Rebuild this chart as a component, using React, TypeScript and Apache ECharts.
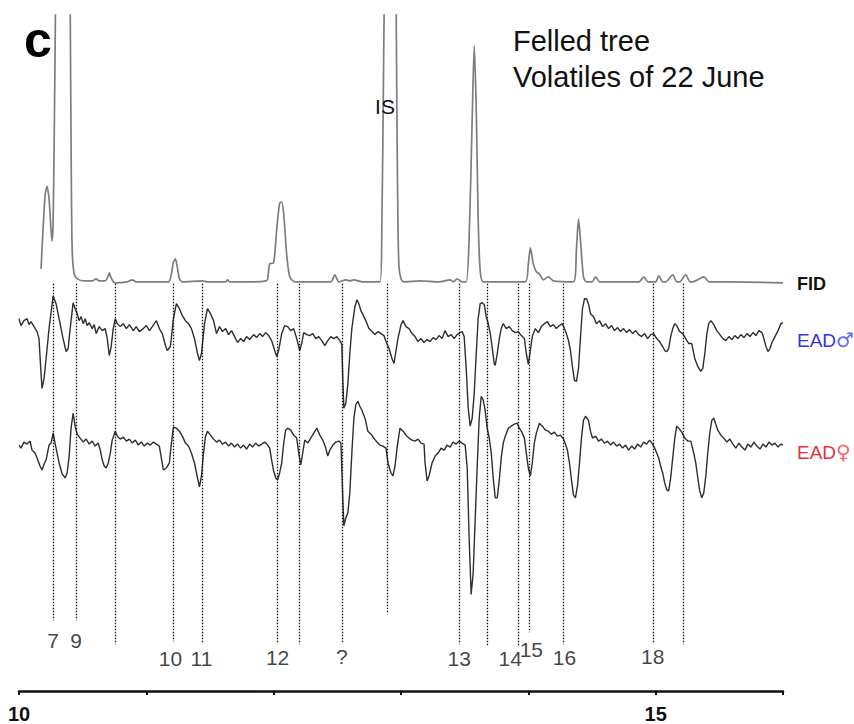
import React, { useEffect, useRef } from 'react';
import * as echarts from 'echarts';

// Retention time (min) vs. detector signal (relative units, baseline = 0)
const fidTrace: [number, number][] = [
  [10.173, 13], [10.189, 53], [10.205, 87], [10.22, 96], [10.236, 83], [10.252, 51], [10.26, 41], [10.268, 60],
  [10.276, 140], [10.287, 280], [10.315, 780], [10.346, 1500], [10.378, 780], [10.402, 280], [10.409, 140],
  [10.417, 35], [10.433, 8], [10.457, 3], [10.512, 1], [10.575, 1], [10.606, 3], [10.63, 1], [10.677, 1],
  [10.701, 6], [10.709, 9], [10.717, 6], [10.74, 0], [10.756, -1], [10.85, 0], [10.89, 2], [10.92, 0],
  [11.173, 0], [11.197, 8], [11.213, 20], [11.228, 23], [11.244, 14], [11.26, 3], [11.283, 0], [11.441, 1],
  [11.48, 0], [11.622, 0], [11.638, 2], [11.654, 0], [11.85, 0], [11.94, 1], [11.953, 3], [11.969, 18],
  [12.0, 19], [12.024, 53], [12.047, 79], [12.063, 80], [12.079, 68], [12.102, 28], [12.126, 5], [12.165, 0],
  [12.3, 0], [12.449, 0], [12.48, 7], [12.512, 0], [12.567, 2], [12.598, 1], [12.63, 2], [12.7, 0],
  [12.835, 0], [12.85, 60], [12.862, 200], [12.878, 420], [12.921, 1500], [12.961, 300], [12.969, 150],
  [12.976, 60], [12.984, 15], [13.0, 3], [13.02, 0], [13.15, 1], [13.3, 0], [13.386, 2], [13.41, 0],
  [13.441, 3], [13.48, 0], [13.512, 0], [13.535, 43], [13.559, 163], [13.575, 237], [13.591, 173],
  [13.606, 63], [13.622, 11], [13.646, 0], [13.8, 0], [13.976, 0], [14.0, 18], [14.016, 34], [14.039, 18],
  [14.063, 10], [14.087, 8], [14.118, 2], [14.157, 5], [14.197, 1], [14.354, 0], [14.378, 33], [14.394, 63],
  [14.409, 43], [14.433, 5], [14.457, 0], [14.5, 0], [14.528, 5], [14.56, 0], [14.87, 0], [14.906, 5],
  [14.94, 0], [15.0, 0], [15.024, 6], [15.055, 0], [15.079, 0], [15.134, 7], [15.165, 0], [15.189, 0],
  [15.236, 7], [15.27, 0], [15.291, 0], [15.378, 5], [15.42, 0], [15.6, 0], [16.0, -1],
];

const eadMale: [number, number][] = [
  [10.0, 10], [10.016, 3], [10.039, 8], [10.063, 10], [10.079, 4], [10.094, 7], [10.118, 2], [10.142, -3],
  [10.157, -10], [10.173, -45], [10.181, -60], [10.197, -50], [10.213, -30], [10.236, 0], [10.268, 33],
  [10.291, 25], [10.315, 10], [10.346, -10], [10.37, -23], [10.386, -20], [10.402, 0], [10.425, 26],
  [10.441, 20], [10.457, 15], [10.472, 8], [10.488, 12], [10.504, 5], [10.52, 10], [10.535, 3], [10.551, 6],
  [10.575, 0], [10.591, 4], [10.606, -5], [10.63, 2], [10.654, -2], [10.677, 0], [10.693, -10], [10.709, -27],
  [10.724, -18], [10.74, 0], [10.756, 10], [10.772, 5], [10.795, 2], [10.819, 5], [10.843, 0], [10.866, 4],
  [10.898, -2], [10.921, 2], [10.945, -3], [10.976, 0], [11.0, 3], [11.024, -2], [11.047, 2], [11.079, 8],
  [11.102, 0], [11.126, -5], [11.15, -17], [11.165, -22], [11.189, -18], [11.213, 10], [11.236, 25],
  [11.26, 20], [11.283, 13], [11.307, 8], [11.331, 5], [11.354, 0], [11.378, -10], [11.402, -25],
  [11.417, -32], [11.433, -25], [11.457, 5], [11.48, 20], [11.504, 15], [11.528, 8], [11.551, -5],
  [11.575, 2], [11.598, -3], [11.622, 0], [11.646, -6], [11.669, -2], [11.693, -8], [11.717, -14],
  [11.74, -10], [11.764, -13], [11.787, -8], [11.811, -11], [11.843, -6], [11.866, -9], [11.89, -5],
  [11.913, -8], [11.937, -4], [11.961, -7], [11.984, -12], [12.008, -22], [12.024, -28], [12.039, -22],
  [12.063, -5], [12.087, 3], [12.11, 2], [12.134, -2], [12.157, 0], [12.181, -10], [12.205, -22],
  [12.22, -15], [12.236, -4], [12.26, -6], [12.283, -7], [12.307, -5], [12.331, -10], [12.354, -8],
  [12.378, -12], [12.402, -17], [12.425, -12], [12.449, -8], [12.472, -10], [12.496, -8], [12.52, -12],
  [12.535, -16], [12.543, -50], [12.551, -80], [12.567, -75], [12.583, -55], [12.598, -25], [12.614, 0],
  [12.638, 22], [12.654, 29], [12.669, 25], [12.685, 18], [12.709, 12], [12.724, 8], [12.748, 0],
  [12.772, -3], [12.795, -6], [12.819, -3], [12.843, -5], [12.866, -7], [12.882, -13], [12.906, -20],
  [12.929, -30], [12.945, -35], [12.961, -22], [12.976, -10], [13.0, 4], [13.016, 8], [13.039, 2],
  [13.063, 0], [13.087, -5], [13.11, -8], [13.134, -13], [13.157, -10], [13.181, -14], [13.205, -11],
  [13.228, -13], [13.252, -9], [13.276, -11], [13.299, -7], [13.323, -10], [13.346, -2], [13.37, -8],
  [13.394, -6], [13.417, -10], [13.441, -6], [13.465, -4], [13.48, -3], [13.496, -8], [13.512, -40],
  [13.528, -80], [13.543, -98], [13.559, -90], [13.575, -65], [13.591, -25], [13.606, 10], [13.622, 25],
  [13.638, 26], [13.654, 24], [13.669, 12], [13.685, 5], [13.701, -5], [13.717, -20], [13.732, -35],
  [13.74, -37], [13.756, -25], [13.772, -10], [13.787, 0], [13.803, 5], [13.827, 0], [13.85, 2],
  [13.874, -2], [13.898, -4], [13.921, -3], [13.945, -7], [13.969, -10], [13.984, -25], [14.0, -36],
  [14.016, -22], [14.031, -8], [14.055, 0], [14.079, -4], [14.102, 2], [14.126, 5], [14.15, 7], [14.173, 2],
  [14.197, 4], [14.22, 0], [14.244, 3], [14.268, 5], [14.283, 0], [14.299, -5], [14.315, -12], [14.331, -22],
  [14.346, -38], [14.362, -52], [14.378, -53], [14.394, -40], [14.409, -10], [14.425, 20], [14.441, 30],
  [14.457, 30], [14.472, 25], [14.488, 15], [14.512, 12], [14.535, 5], [14.559, 8], [14.583, 2], [14.606, 5],
  [14.63, 0], [14.654, 3], [14.677, -2], [14.701, 1], [14.724, -3], [14.748, 0], [14.772, -4], [14.795, -1],
  [14.819, -5], [14.843, -2], [14.866, -6], [14.89, -8], [14.913, -5], [14.937, -10], [14.961, -6],
  [14.984, -5], [15.008, -10], [15.031, -13], [15.055, -18], [15.071, -22], [15.087, -23], [15.102, -20],
  [15.118, -8], [15.134, 0], [15.15, 5], [15.165, 3], [15.189, -3], [15.213, -5], [15.236, -10],
  [15.26, -15], [15.283, -15], [15.307, -30], [15.331, -38], [15.354, -43], [15.37, -40], [15.386, -25],
  [15.402, -5], [15.417, 5], [15.433, 8], [15.457, 4], [15.48, -2], [15.504, -6], [15.528, -10],
  [15.551, -12], [15.575, -8], [15.598, -11], [15.622, -7], [15.646, -10], [15.669, -6], [15.693, -9],
  [15.717, -5], [15.74, -8], [15.764, -4], [15.787, -7], [15.811, -2], [15.835, -4], [15.85, -10],
  [15.866, -18], [15.882, -23], [15.898, -20], [15.913, -14], [15.937, -8], [15.961, -2], [15.984, 5],
  [16.0, 6],
];

const eadFemale: [number, number][] = [
  [10.0, 0], [10.016, -3], [10.039, 3], [10.063, 1], [10.087, 4], [10.102, -5], [10.126, -8], [10.142, -13],
  [10.165, -21], [10.181, -25], [10.197, -19], [10.213, -15], [10.236, 0], [10.252, 2], [10.268, 12],
  [10.283, 2], [10.299, -8], [10.315, -18], [10.339, -29], [10.362, -33], [10.378, -28], [10.394, -11],
  [10.409, 17], [10.425, 32], [10.441, 19], [10.457, 11], [10.48, 7], [10.504, 3], [10.528, 6], [10.551, 1],
  [10.575, 4], [10.598, -1], [10.622, 2], [10.638, -5], [10.654, -15], [10.669, -21], [10.685, -23],
  [10.701, -18], [10.717, -8], [10.732, 5], [10.756, 14], [10.772, 9], [10.795, 6], [10.819, 8], [10.843, 4],
  [10.866, 6], [10.89, 2], [10.913, 5], [10.937, 0], [10.961, 3], [10.984, -1], [11.008, 2], [11.031, 0],
  [11.055, 3], [11.079, 1], [11.102, -1], [11.118, -13], [11.134, -25], [11.157, -23], [11.181, -18],
  [11.197, 2], [11.213, 18], [11.236, 17], [11.26, 14], [11.283, 9], [11.307, 2], [11.331, -1], [11.354, -8],
  [11.378, -18], [11.402, -33], [11.417, -42], [11.433, -31], [11.449, -8], [11.465, 9], [11.48, 14],
  [11.504, 10], [11.528, 6], [11.551, 3], [11.575, 5], [11.598, 1], [11.622, 3], [11.646, -1], [11.669, 2],
  [11.693, -2], [11.717, 1], [11.74, -3], [11.764, 0], [11.787, -4], [11.811, 1], [11.835, -2], [11.858, 2],
  [11.882, -1], [11.906, 1], [11.929, 3], [11.953, 0], [11.969, -3], [11.984, -15], [12.0, -26],
  [12.016, -33], [12.031, -35], [12.047, -28], [12.063, -18], [12.079, 2], [12.094, 15], [12.11, 17],
  [12.134, 15], [12.157, 10], [12.181, 7], [12.197, -8], [12.213, -20], [12.228, -8], [12.244, 5],
  [12.268, 2], [12.291, 7], [12.315, 12], [12.339, 17], [12.362, 10], [12.386, 5], [12.409, -3],
  [12.425, -11], [12.441, -5], [12.465, 0], [12.488, 3], [12.512, 4], [12.528, 2], [12.535, -23],
  [12.543, -53], [12.551, -81], [12.567, -73], [12.583, -68], [12.598, -48], [12.614, -8], [12.63, 27],
  [12.646, 41], [12.661, 44], [12.677, 39], [12.693, 35], [12.717, 27], [12.74, 14], [12.764, 11],
  [12.787, 7], [12.811, 3], [12.835, 0], [12.858, -1], [12.882, -3], [12.898, -18], [12.921, -28],
  [12.937, -31], [12.953, -21], [12.969, -3], [12.992, 17], [13.016, 14], [13.039, 10], [13.063, 7],
  [13.087, 5], [13.11, 4], [13.134, 6], [13.157, 2], [13.181, 1], [13.189, -18], [13.205, -36],
  [13.22, -31], [13.244, -18], [13.268, -11], [13.291, -8], [13.315, -3], [13.339, -5], [13.362, 0],
  [13.386, -2], [13.409, 3], [13.433, 1], [13.457, 4], [13.48, 2], [13.504, 0], [13.52, -23], [13.535, -93],
  [13.551, -150], [13.567, -128], [13.583, -73], [13.598, -23], [13.614, 27], [13.63, 49], [13.646, 45],
  [13.661, 35], [13.677, 17], [13.693, 7], [13.709, -8], [13.724, -33], [13.74, -53], [13.756, -53],
  [13.772, -35], [13.787, -13], [13.803, 2], [13.819, 9], [13.843, 17], [13.866, 19], [13.89, 21],
  [13.913, 22], [13.929, 17], [13.945, 14], [13.969, 7], [13.984, -8], [14.0, -23], [14.016, -31],
  [14.031, -18], [14.047, 2], [14.063, 12], [14.087, 22], [14.11, 19], [14.134, 15], [14.157, 14],
  [14.181, 11], [14.205, 13], [14.228, 9], [14.252, 10], [14.276, 6], [14.291, 1], [14.307, -5],
  [14.323, -18], [14.339, -35], [14.354, -50], [14.37, -53], [14.386, -41], [14.402, -18], [14.417, 7],
  [14.433, 25], [14.449, 29], [14.472, 25], [14.488, 14], [14.504, 7], [14.528, 9], [14.551, 4], [14.575, 6],
  [14.598, 2], [14.622, 4], [14.646, 0], [14.669, 3], [14.693, -1], [14.717, 1], [14.74, -3], [14.764, 0],
  [14.787, -5], [14.811, -1], [14.835, -4], [14.858, 1], [14.882, -2], [14.906, 3], [14.929, 1], [14.953, 5],
  [14.976, 1], [14.992, -3], [15.008, -8], [15.024, -13], [15.039, -21], [15.055, -28], [15.071, -38],
  [15.087, -45], [15.102, -46], [15.118, -33], [15.134, -13], [15.15, 7], [15.165, 19], [15.181, 17],
  [15.205, 13], [15.228, 7], [15.252, 4], [15.276, 4], [15.299, -8], [15.315, -18], [15.331, -33],
  [15.346, -46], [15.362, -53], [15.378, -48], [15.394, -31], [15.409, -8], [15.425, 12], [15.441, 25],
  [15.457, 27], [15.472, 21], [15.488, 15], [15.512, 10], [15.535, 7], [15.559, 3], [15.583, 6], [15.606, 1],
  [15.63, -3], [15.654, 2], [15.677, -2], [15.701, -5], [15.724, 1], [15.748, -2], [15.772, 3], [15.795, -1],
  [15.819, -4], [15.843, 1], [15.866, -2], [15.89, 3], [15.913, 0], [15.937, 2], [15.961, -2], [15.984, 1],
  [16.0, 0],
];

// EAD-active peaks (dotted markers)
const peakTimes = [10.268, 10.449, 10.756, 11.213, 11.441, 12.031, 12.197, 12.535, 12.89, 13.457, 13.677, 13.921, 14.008, 14.276, 14.984, 15.22];
const peakLabels = ['7', '9', '', '10', '11', '12', '', '?', '', '13', '', '14', '15', '16', '18', ''];

const xLabelValues = [10, 15];

export default function App() {
  const ref = useRef<HTMLDivElement>(null);

  useEffect(() => {
    const chart = echarts.init(ref.current as HTMLDivElement, null, { renderer: 'svg' });
    const font = 'Arial, "Liberation Sans", Helvetica, sans-serif';
    const symFont = '"DejaVu Sans", sans-serif';

    // layout offsets (vertical placement of each trace in the stacked plot)
    const fidBase = 411;
    const maleBase = 364;
    const femaleBase = 247;
    const markerTop = 409;
    const markerEnds = [71, 71, 47, 50, 49, 49, 47, 49, 77, 47, 46, 46, 59, 47, 48, 47];
    const labelLevels = [51, 51, 0, 33, 33, 34, 0, 35, 0, 33, 0, 33, 42, 34, 35, 0];
    const labelShift = [0, 0, 0, -3, -1, 0, 0, 0, 0, 0, 0, -8, 2, 1, -1, 0];

    const shift = (arr: [number, number][], base: number) => arr.map(([t, v]) => [t, v + base]);

    const labelData = peakLabels
      .map((name, i) =>
        name
          ? { name, value: [peakTimes[i], labelLevels[i]], label: { offset: [labelShift[i], 0] } }
          : null
      )
      .filter(Boolean);

    const option: any = {
      animation: false,
      backgroundColor: '#ffffff',
      grid: { left: 19, right: 71, top: 15, bottom: 30, containLabel: false },
      xAxis: {
        type: 'value',
        min: 10,
        max: 16,
        interval: 1,
        axisLine: { show: true, onZero: false, lineStyle: { color: '#111', width: 2.5 } },
        axisTick: { show: true, length: 4, lineStyle: { color: '#111', width: 2 } },
        splitLine: { show: false },
        axisLabel: {
          formatter: (v: number) => (xLabelValues.includes(v) ? String(v) : ''),
          fontSize: 20,
          fontWeight: 'bold',
          color: '#111',
          margin: 13,
          fontFamily: font,
        },
      },
      yAxis: { type: 'value', min: 0, max: 679, show: false },
      series: [
        {
          name: 'FID',
          type: 'line',
          data: shift(fidTrace, fidBase),
          showSymbol: false,
          smooth: 0.25,
          clip: true,
          lineStyle: { color: '#7d7d7d', width: 1.7 },
          silent: true,
          z: 3,
          markLine: {
            silent: true,
            symbol: ['none', 'none'],
            label: { show: false },
            lineStyle: { color: '#111', width: 1.3, type: [1.5, 1.5] },
            data: peakTimes.map((t, i) => [{ coord: [t, markerTop] }, { coord: [t, markerEnds[i]] }]),
          },
        },
        {
          name: 'EAD male',
          type: 'line',
          data: shift(eadMale, maleBase),
          showSymbol: false,
          clip: true,
          lineStyle: { color: '#2e2e2e', width: 1.4 },
          silent: true,
          z: 4,
        },
        {
          name: 'EAD female',
          type: 'line',
          data: shift(eadFemale, femaleBase),
          showSymbol: false,
          clip: true,
          lineStyle: { color: '#2e2e2e', width: 1.4 },
          silent: true,
          z: 4,
        },
        {
          name: 'labels',
          type: 'scatter',
          data: labelData,
          symbolSize: 1,
          itemStyle: { color: 'rgba(0,0,0,0)' },
          silent: true,
          label: {
            show: true,
            position: 'inside',
            formatter: '{b}',
            fontSize: 21,
            color: '#111',
            fontFamily: font,
          },
        },
      ],
      graphic: [
        { type: 'text', x: 24, y: 40, style: { text: 'c', fill: '#000', font: `bold 50px ${font}`, align: 'left', verticalAlign: 'middle' } },
        { type: 'text', x: 513, y: 41, style: { text: 'Felled tree', fill: '#111', font: `29px ${font}`, align: 'left', verticalAlign: 'middle' } },
        { type: 'text', x: 513, y: 77, style: { text: 'Volatiles of 22 June', fill: '#111', font: `29px ${font}`, align: 'left', verticalAlign: 'middle' } },
        { type: 'text', x: 385, y: 106, z: 10, style: { text: 'IS', fill: '#111', font: `21px ${font}`, align: 'center', verticalAlign: 'middle' } },
        { type: 'text', x: 797, y: 284, style: { text: 'FID', fill: '#111', font: `bold 18px ${font}`, align: 'left', verticalAlign: 'middle' } },
        {
          type: 'text', x: 797, y: 340,
          style: {
            text: '{a|EAD}{b|♂}', align: 'left', verticalAlign: 'middle',
            rich: {
              a: { fill: '#3535e0', color: '#3535e0', fontSize: 19, fontFamily: font },
              b: { fill: '#6a6af0', color: '#6a6af0', fontSize: 20, fontFamily: symFont },
            },
          },
        },
        {
          type: 'text', x: 797, y: 452,
          style: {
            text: '{a|EAD}{b|♀}', align: 'left', verticalAlign: 'middle',
            rich: {
              a: { fill: '#e8303a', color: '#e8303a', fontSize: 19, fontFamily: font },
              b: { fill: '#f06a70', color: '#f06a70', fontSize: 20, fontFamily: symFont },
            },
          },
        },
      ],
    };

    chart.setOption(option);
    return () => chart.dispose();
  }, []);

  return (
    <div
      ref={ref}
      style={{ position: 'absolute', left: 0, top: 0, width: 854, height: 724, background: '#fff' }}
    />
  );
}
